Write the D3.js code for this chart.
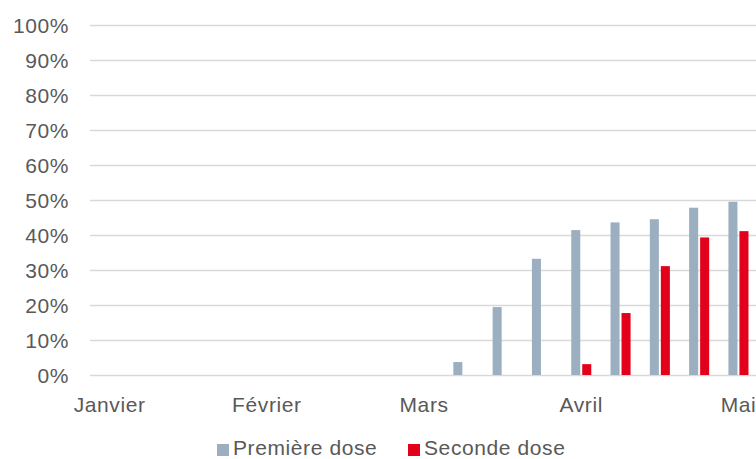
<!DOCTYPE html>
<html>
<head>
<meta charset="utf-8">
<script src="https://cdn.jsdelivr.net/npm/d3@7"></script>
<style>
  html, body { margin: 0; padding: 0; background: #ffffff; }
  svg { display: block; }
  text { font-family: "Liberation Sans", Arial, Helvetica, sans-serif; fill: #595959; letter-spacing: 0.6px; }
</style>
</head>
<body>
<svg id="chart" width="756" height="459"></svg>
<script>
// Weekly categories (17 weeks, January → May)
const categories = ["W01","W02","W03","W04","W05","W06","W07","W08","W09","W10","W11","W12","W13","W14","W15","W16","W17"];
const tickLabels = ["Janvier","","","","Février","","","","Mars","","","","Avril","","","","Mai"];
const seriesNames = ["Première dose", "Seconde dose"];
const firstDose  = [0,0,0,0,0,0,0,0,0,3.7,19.4,33.2,41.4,43.6,44.5,47.8,49.5];
const secondDose = [0,0,0,0,0,0,0,0,0,0,0,0,3.1,17.7,31.1,39.3,41.1];
const yTicks = [0,10,20,30,40,50,60,70,80,90,100];
const colors = ["#9bafc0", "#e2001a"];

const svg = d3.select("#chart");
const W = 756, H = 459;
const plot = { left: 90, right: 90 + 17 * 39.3, top: 25, bottom: 375 };

const x = d3.scaleBand()
  .domain(categories)
  .range([plot.left, plot.right])
  .paddingInner(0.49)
  .paddingOuter(0.245);

const x1 = d3.scaleBand()
  .domain(seriesNames)
  .range([0, x.bandwidth()])
  .paddingInner(0.18);

const y = d3.scaleLinear().domain([0, 100]).range([plot.bottom, plot.top]);

// Gridlines + y labels via axis
const yAxis = d3.axisLeft(y)
  .tickValues(yTicks)
  .tickSize(-(W - plot.left))
  .tickPadding(21)
  .tickFormat(d => d + "%");

const gy = svg.append("g")
  .attr("transform", `translate(${plot.left},0)`)
  .call(yAxis);
gy.select(".domain").remove();
gy.selectAll(".tick line").attr("stroke", "#d9d9d9").attr("stroke-width", 1.3);
gy.selectAll(".tick text")
  .attr("fill", "#595959")
  .style("font-size", "21px")
  .attr("dy", "0.36em");

// Bars
const rows = categories.map((c, i) => ({ cat: c, vals: [firstDose[i], secondDose[i]] }));
const groups = svg.append("g").selectAll("g")
  .data(rows)
  .join("g")
  .attr("transform", d => `translate(${x(d.cat)},0)`);

groups.selectAll("rect")
  .data(d => d.vals.map((v, k) => ({ key: seriesNames[k], v, k })))
  .join("rect")
  .attr("x", d => x1(d.key))
  .attr("width", x1.bandwidth())
  .attr("y", d => y(d.v))
  .attr("height", d => y(0) - y(d.v))
  .attr("fill", d => colors[d.k]);

// X axis labels
const xAxis = d3.axisBottom(x)
  .tickSize(0)
  .tickPadding(0)
  .tickFormat((d, i) => tickLabels[i]);
const gx = svg.append("g")
  .attr("transform", `translate(0,${plot.bottom})`)
  .call(xAxis);
gx.select(".domain").remove();
gx.selectAll(".tick text")
  .attr("fill", "#595959")
  .style("font-size", "21px")
  .attr("y", 37)
  .attr("dy", 0);

// Legend
const legendItems = [
  { name: seriesNames[0], color: colors[0], x: 217 },
  { name: seriesNames[1], color: colors[1], x: 408 }
];
const lg = svg.append("g");
legendItems.forEach(it => {
  lg.append("rect")
    .attr("x", it.x).attr("y", 444)
    .attr("width", 12).attr("height", 12)
    .attr("fill", it.color);
  lg.append("text")
    .attr("x", it.x + 16).attr("y", 455)
    .style("font-size", "21px")
    .text(it.name);
});
</script>
</body>
</html>
